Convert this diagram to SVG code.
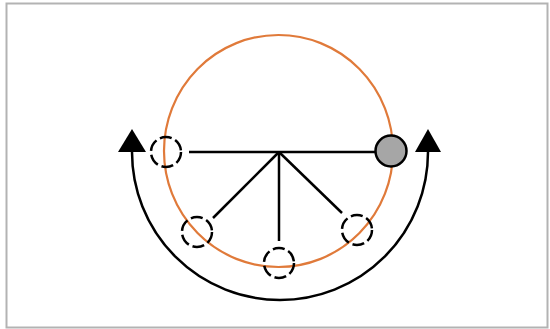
<svg xmlns="http://www.w3.org/2000/svg" width="550" height="329" viewBox="0 0 550 329">
<defs>
<style>
.frame{fill:#fff;stroke:#b3b3b3;stroke-width:2}
.orbit{fill:none;stroke:#e07a3a;stroke-width:2.2}
.spoke{stroke:#000;stroke-width:2.5;fill:none}
.dash{fill:none;stroke:#000;stroke-width:2.5;stroke-dasharray:12 4}
.solid{fill:#a6a6a6;stroke:#000;stroke-width:2.5}
.arc{fill:none;stroke:#000;stroke-width:2.5}
.head{fill:#000}
</style>
</defs>
<rect class="frame" x="6.5" y="3.5" width="541" height="324"/>
<ellipse id="orbit" class="orbit" cx="278.5" cy="151" rx="114.5" ry="116"/>
<g id="connectors">
<line class="spoke" x1="189" y1="152" x2="376" y2="152"/>
<line class="spoke" x1="279" y1="152" x2="213" y2="218"/>
<line class="spoke" x1="279" y1="152" x2="279" y2="241"/>
<line class="spoke" x1="279" y1="152" x2="342" y2="213"/>
<path class="arc" d="M132,152 A148,148 0 0 0 428,152"/>
<polygon class="head" points="132,129 118,152 146,152"/>
<polygon class="head" points="428,129 415,152 441,152"/>
</g>
<g id="n-left"><circle class="dash" cx="166" cy="152" r="15"/></g>
<g id="n-right"><circle class="solid" cx="391" cy="151" r="15.5"/></g>
<g id="n-lowleft"><circle class="dash" cx="197" cy="232" r="15"/></g>
<g id="n-bottom"><circle class="dash" cx="279" cy="263" r="15"/></g>
<g id="n-lowright"><circle class="dash" cx="357" cy="230" r="15"/></g>
</svg>
